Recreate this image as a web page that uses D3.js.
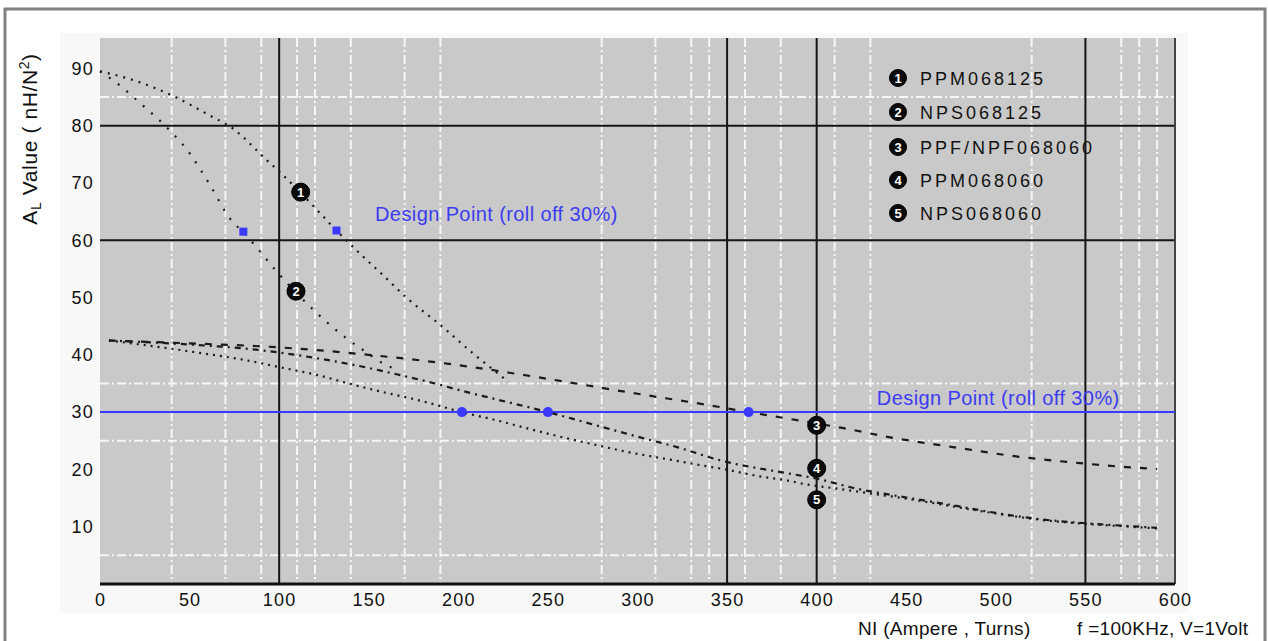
<!DOCTYPE html>
<html>
<head>
<meta charset="utf-8">
<script src="https://cdn.jsdelivr.net/npm/d3@7/dist/d3.min.js"></script>
<style>
body { margin: 0; background: #fff; }
text { font-family: "Liberation Sans", Arial, sans-serif; }
</style>
</head>
<body>
<div id="chart"></div>
<script>
// axis ticks
var xTicks = [0, 50, 100, 150, 200, 250, 300, 350, 400, 450, 500, 550, 600];
var yTicks = [10, 20, 30, 40, 50, 60, 70, 80, 90];

// grid lines
var whiteGridX = [40, 70, 90, 110, 120, 140, 170, 190, 280, 310, 330, 340, 360, 380, 410, 430, 520, 570, 580, 590];
var whiteGridY = [85, 35, 25, 5];
var blackGridX = [100, 350, 400, 550];
var blackGridY = [80, 60];
var designLevel = 30;

// curves [NI, AL]
var seriesNames = ["PPM068125", "NPS068125", "PPF/NPF068060", "PPM068060", "NPS068060"];
var ppm068125 = [[0, 89.5], [20, 87.8], [40, 85.3], [60, 82], [75, 79.3], [93, 74], [100, 72], [119, 66], [132, 61.7],
  [145, 57.7], [158, 53.9], [171, 50], [190, 45.2], [208, 40.3], [228, 35.3]];
var nps068125 = [[0, 89.5], [9.5, 87.4], [24, 83.5], [35, 80.4], [50, 75.2], [60.5, 70.1], [74, 63.2], [80, 61.4],
  [86.5, 59.1], [99, 54.4], [109, 51], [121, 47.3], [137, 43], [147, 40.8], [158, 38.5], [167, 37.2]];
var ppf068060 = [[5, 42.5], [50, 42], [100, 41.3], [150, 40], [200, 38.2], [250, 35.8], [300, 33.2], [340, 31.2],
  [362, 30], [389, 28.6], [415, 27.2], [441, 25.6], [476, 23.9], [513, 22.2], [547, 21.1], [573, 20.4], [590, 20.1]];
var ppm068060 = [[5, 42.5], [50, 41.8], [87, 40.9], [100, 40.4], [125, 39.2], [150, 37.7], [167, 36.5], [187, 35],
  [201, 33.8], [219, 32.4], [250, 30], [278, 27.6], [305, 25.3], [322, 23.9], [346, 21.6], [384, 19.3], [400, 18.4],
  [420, 16.8], [450, 15.1], [475, 13.8], [500, 12.4], [525, 11.3], [550, 10.6], [575, 10.1], [590, 9.8]];
var nps068060 = [[5, 42.5], [25, 41.7], [58.6, 40.2], [79, 39.2], [101, 37.8], [121, 36.5], [141, 34.8], [158, 33.5],
  [180, 31.9], [202, 30], [221, 28.6], [238, 27.2], [257, 25.7], [275, 24.4], [292, 23.2], [309, 22.2], [322, 21.5],
  [334, 20.8], [349, 20], [368, 18.8], [383, 18.1], [394, 17.4], [410, 16.7], [430, 15.8], [450, 14.9], [475, 13.6],
  [500, 12.3], [525, 11.2], [550, 10.5], [575, 10], [590, 9.7]];
var allSeries = [ppm068125, nps068125, ppf068060, ppm068060, nps068060];

// design points
var squarePoints = [[132, 61.7], [80, 61.5]];
var roundPoints = [[202, 30], [250, 30], [362, 30]];
var curveLabels = [[112, 68.4], [109.4, 51.1], [400, 27.7], [400, 20.2], [400, 14.7]];
var designNotes = [[153.5, 63.3], [433.6, 31.2]];

var width = 1268, height = 641;
var dashes = ["2,6", "2,9", "7,9", "6,5,2,5", "2,5"];

var svg = d3.select("#chart").append("svg")
  .attr("width", width)
  .attr("height", height);

var x = d3.scaleLinear().domain([0, 600]).range([100, 1175]);
var y = d3.scaleLinear().domain([0, 95.3]).range([584, 38]);

// outer frame and light panel
svg.append("rect").attr("x", 5).attr("y", 9).attr("width", 1260).attr("height", 660)
  .style("fill", "#fff").style("stroke", "#808080").style("stroke-width", 3);
svg.append("rect").attr("x", 60).attr("y", 33).attr("width", 1128).attr("height", 580)
  .style("fill", "#f8f8f8");

// plot background
svg.append("rect")
  .attr("x", x(0)).attr("y", y(95.3))
  .attr("width", x(600) - x(0)).attr("height", y(0) - y(95.3))
  .style("fill", "#c9c9c9");

whiteGridX.forEach(function(d) {
  svg.append("line")
    .attr("x1", x(d)).attr("x2", x(d)).attr("y1", y(95.3)).attr("y2", y(0))
    .style("stroke", "#f6f6f6").style("stroke-width", 2).style("stroke-dasharray", "9,3,2,3");
});
whiteGridY.forEach(function(d) {
  svg.append("line")
    .attr("x1", x(0)).attr("x2", x(600)).attr("y1", y(d)).attr("y2", y(d))
    .style("stroke", "#f6f6f6").style("stroke-width", 2).style("stroke-dasharray", "9,3,2,3");
});
blackGridX.forEach(function(d) {
  svg.append("line")
    .attr("x1", x(d)).attr("x2", x(d)).attr("y1", y(95.3)).attr("y2", y(0))
    .style("stroke", "#151515").style("stroke-width", 2);
});
blackGridY.forEach(function(d) {
  svg.append("line")
    .attr("x1", x(0)).attr("x2", x(600)).attr("y1", y(d)).attr("y2", y(d))
    .style("stroke", "#151515").style("stroke-width", 2);
});

// right edge and bottom axis
svg.append("line").attr("x1", x(600)).attr("x2", x(600)).attr("y1", y(95.3)).attr("y2", y(0))
  .style("stroke", "#444").style("stroke-width", 2);
svg.append("line").attr("x1", x(0)).attr("x2", x(600)).attr("y1", y(0)).attr("y2", y(0))
  .style("stroke", "#111").style("stroke-width", 3);

// design level line
svg.append("line").attr("x1", x(0)).attr("x2", x(600)).attr("y1", y(designLevel)).attr("y2", y(designLevel))
  .style("stroke", "#3a3aff").style("stroke-width", 2);

// curves
var line = d3.line()
  .x(function(d) { return x(d[0]); })
  .y(function(d) { return y(d[1]); })
  .curve(d3.curveMonotoneX);

allSeries.forEach(function(s, i) {
  svg.append("path")
    .datum(s)
    .attr("d", line)
    .style("fill", "none")
    .style("stroke", "#1a1a1a")
    .style("stroke-width", 2.2)
    .style("stroke-dasharray", dashes[i]);
});

// design point markers
squarePoints.forEach(function(d) {
  svg.append("rect")
    .attr("x", x(d[0]) - 4).attr("y", y(d[1]) - 4)
    .attr("width", 8).attr("height", 8)
    .style("fill", "#3a3aff");
});
roundPoints.forEach(function(d) {
  svg.append("circle")
    .attr("cx", x(d[0])).attr("cy", y(d[1])).attr("r", 5)
    .style("fill", "#3a3aff");
});

// circled numbers on curves
function badge(cx, cy, n, r) {
  svg.append("circle").attr("cx", cx).attr("cy", cy).attr("r", r)
    .style("fill", "#0a0a0a").style("stroke", "#000").style("stroke-width", 1);
  svg.append("text").attr("x", cx).attr("y", cy + 4.5)
    .attr("text-anchor", "middle")
    .style("font-size", "13px").style("font-weight", "bold").style("fill", "#fff")
    .text(n);
}
curveLabels.forEach(function(d, i) {
  badge(x(d[0]), y(d[1]), i + 1, 9);
});

// design point notes
designNotes.forEach(function(d) {
  svg.append("text")
    .attr("x", x(d[0])).attr("y", y(d[1]))
    .style("font-size", "20px").style("letter-spacing", "0.4px").style("fill", "#3c3cf2")
    .text("Design Point (roll off 30%)");
});

// legend
var legendY = [78, 112, 147, 180, 213];
seriesNames.forEach(function(name, i) {
  badge(898, legendY[i], i + 1, 8.5);
  svg.append("text")
    .attr("x", 920).attr("y", legendY[i] + 6.5)
    .style("font-size", "18px").style("letter-spacing", "3px").style("fill", "#111")
    .text(name);
});

// axes
var xAxis = svg.append("g")
  .attr("transform", "translate(0," + y(0) + ")")
  .call(d3.axisBottom(x).tickValues(xTicks).tickSize(0).tickPadding(9));
var yAxis = svg.append("g")
  .attr("transform", "translate(" + x(0) + ",0)")
  .call(d3.axisLeft(y).tickValues(yTicks).tickSize(0).tickPadding(6));
[xAxis, yAxis].forEach(function(g) {
  g.select(".domain").remove();
  g.selectAll("text")
    .style("font-family", "'Liberation Sans', Arial, sans-serif")
    .style("font-size", "18px")
    .style("letter-spacing", "1.2px")
    .style("fill", "#111");
});

// axis titles
var yTitle = svg.append("text")
  .attr("transform", "translate(37,139) rotate(-90)")
  .attr("text-anchor", "middle")
  .style("font-size", "21px").style("letter-spacing", "0.6px").style("fill", "#111");
yTitle.append("tspan").text("A");
yTitle.append("tspan").attr("baseline-shift", "-25%").style("font-size", "14px").text("L");
yTitle.append("tspan").text(" Value ( nH/N");
yTitle.append("tspan").attr("baseline-shift", "super").style("font-size", "14px").text("2");
yTitle.append("tspan").text(")");

svg.append("text").attr("x", 858).attr("y", 635)
  .style("font-size", "19px").style("letter-spacing", "0.3px").style("fill", "#111")
  .text("NI (Ampere , Turns)");
svg.append("text").attr("x", 1077).attr("y", 635)
  .style("font-size", "19px").style("letter-spacing", "0.3px").style("fill", "#111")
  .text("f =100KHz, V=1Volt");
</script>
</body>
</html>
